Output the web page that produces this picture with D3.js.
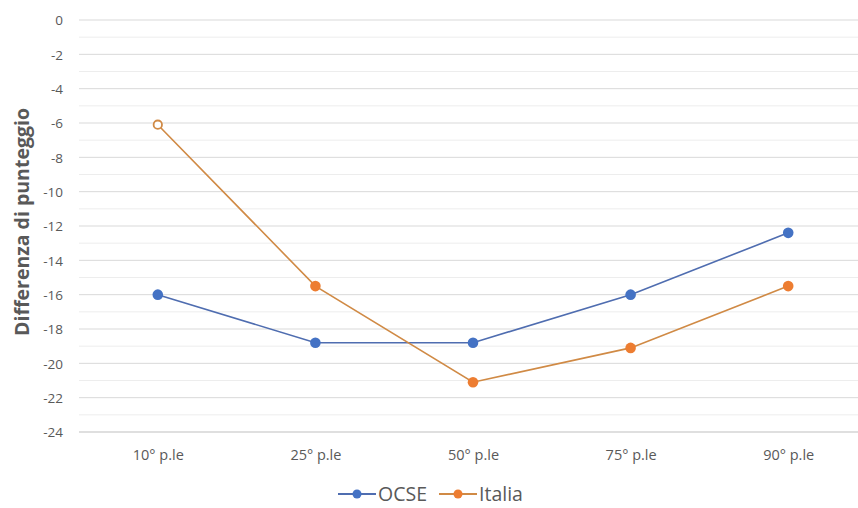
<!DOCTYPE html>
<html>
<head>
<meta charset="utf-8">
<script src="https://cdn.jsdelivr.net/npm/d3@7"></script>
<style>
  html, body { margin: 0; padding: 0; background: #fff; }
  svg { display: block; font-family: "Open Sans", "Liberation Sans", sans-serif; }
</style>
</head>
<body>
<svg id="chart" width="858" height="508"></svg>
<script>
const categories = ["10° p.le", "25° p.le", "50° p.le", "75° p.le", "90° p.le"];
const ocse = [-16, -18.8, -18.8, -16, -12.4];
const italia = [-6.1, -15.5, -21.1, -19.1, -15.5];
const italiaOpen = [true, false, false, false, false];
const yTicks = [0, -2, -4, -6, -8, -10, -12, -14, -16, -18, -20, -22, -24];
const seriesNames = ["OCSE", "Italia"];
const colors = ["#4472C4", "#ED7D31"];
const lineColors = ["#4F6DB0", "#D08A45"];

(function () {
const svg = d3.select("#chart");
const W = 858, H = 508;
const mLeft = 79, mRight = 867, mTop = 20, mBottom = 432;

const x = d3.scalePoint().domain(categories).range([mLeft, mRight]).padding(0.5);
const y = d3.scaleLinear().domain([-24, 0]).range([mBottom, mTop]);

// minor gridlines
const minor = d3.range(-23, 0, 2);
svg.append("g").selectAll("line").data(minor).join("line")
  .attr("x1", mLeft).attr("x2", W)
  .attr("y1", d => y(d)).attr("y2", d => y(d))
  .attr("stroke", "#EDEDED").attr("stroke-width", 1);

// major gridlines
svg.append("g").selectAll("line").data(yTicks.filter(d => d !== -24)).join("line")
  .attr("x1", mLeft).attr("x2", W)
  .attr("y1", d => y(d)).attr("y2", d => y(d))
  .attr("stroke", "#D9D9D9").attr("stroke-width", 1);

// bottom axis line
svg.append("line").attr("x1", mLeft).attr("x2", W)
  .attr("y1", y(-24)).attr("y2", y(-24))
  .attr("stroke", "#BFBFBF").attr("stroke-width", 1.2);

// y tick labels
const yAxis = d3.axisLeft(y).tickValues(yTicks).tickSize(0).tickPadding(0).tickFormat(d3.format("d"));
const gy = svg.append("g").attr("transform", `translate(63,0)`).call(yAxis);
gy.select(".domain").remove();
gy.selectAll("text").attr("fill", "#595959").style("font-size", "13.5px")
  .style("font-family", "\"Open Sans\", sans-serif").attr("dy", "0.35em")
  .text(d => String(d));

// x tick labels
const xAxis = d3.axisBottom(x).tickSize(0).tickPadding(0);
const gx = svg.append("g").attr("transform", `translate(0,${mBottom + 18})`).call(xAxis);
gx.select(".domain").remove();
gx.selectAll("text").attr("fill", "#595959").style("font-size", "14.5px")
  .style("font-family", "\"Open Sans\", sans-serif").attr("dy", "0.71em");

// y axis title
svg.append("text")
  .attr("transform", `translate(29,222) rotate(-90)`)
  .attr("text-anchor", "middle")
  .attr("fill", "#595959")
  .style("font-size", "19.5px").style("font-weight", "bold")
  .text("Differenza di punteggio");

// lines
const line = d3.line().x((d, i) => x(categories[i])).y(d => y(d));
const allSeries = [ocse, italia];
allSeries.forEach((s, k) => {
  svg.append("path").datum(s)
    .attr("d", line)
    .attr("fill", "none")
    .attr("stroke", lineColors[k])
    .attr("stroke-width", 1.6);
});

// markers
allSeries.forEach((s, k) => {
  svg.append("g").selectAll("circle").data(s).join("circle")
    .attr("cx", (d, i) => x(categories[i]))
    .attr("cy", d => y(d))
    .attr("r", (d, i) => (k === 1 && italiaOpen[i]) ? 4.2 : 5.3)
    .attr("fill", (d, i) => (k === 1 && italiaOpen[i]) ? "#fff" : colors[k])
    .attr("stroke", (d, i) => (k === 1 && italiaOpen[i]) ? lineColors[1] : colors[k])
    .attr("stroke-width", (d, i) => (k === 1 && italiaOpen[i]) ? 1.8 : 0);
});

// legend
const legendItems = [
  { name: seriesNames[0], x: 338, color: colors[0], lc: lineColors[0] },
  { name: seriesNames[1], x: 439, color: colors[1], lc: lineColors[1] }
];
const ly = 494;
legendItems.forEach(it => {
  const g = svg.append("g");
  g.append("line").attr("x1", it.x).attr("x2", it.x + 38).attr("y1", ly).attr("y2", ly)
    .attr("stroke", it.lc).attr("stroke-width", 2);
  g.append("circle").attr("cx", it.x + 19).attr("cy", ly).attr("r", 4.5).attr("fill", it.color);
  g.append("text").attr("x", it.x + 40).attr("y", ly).attr("dy", "0.36em")
    .attr("fill", "#595959").style("font-size", "19.5px").text(it.name);
});
})();
</script>
</body>
</html>
